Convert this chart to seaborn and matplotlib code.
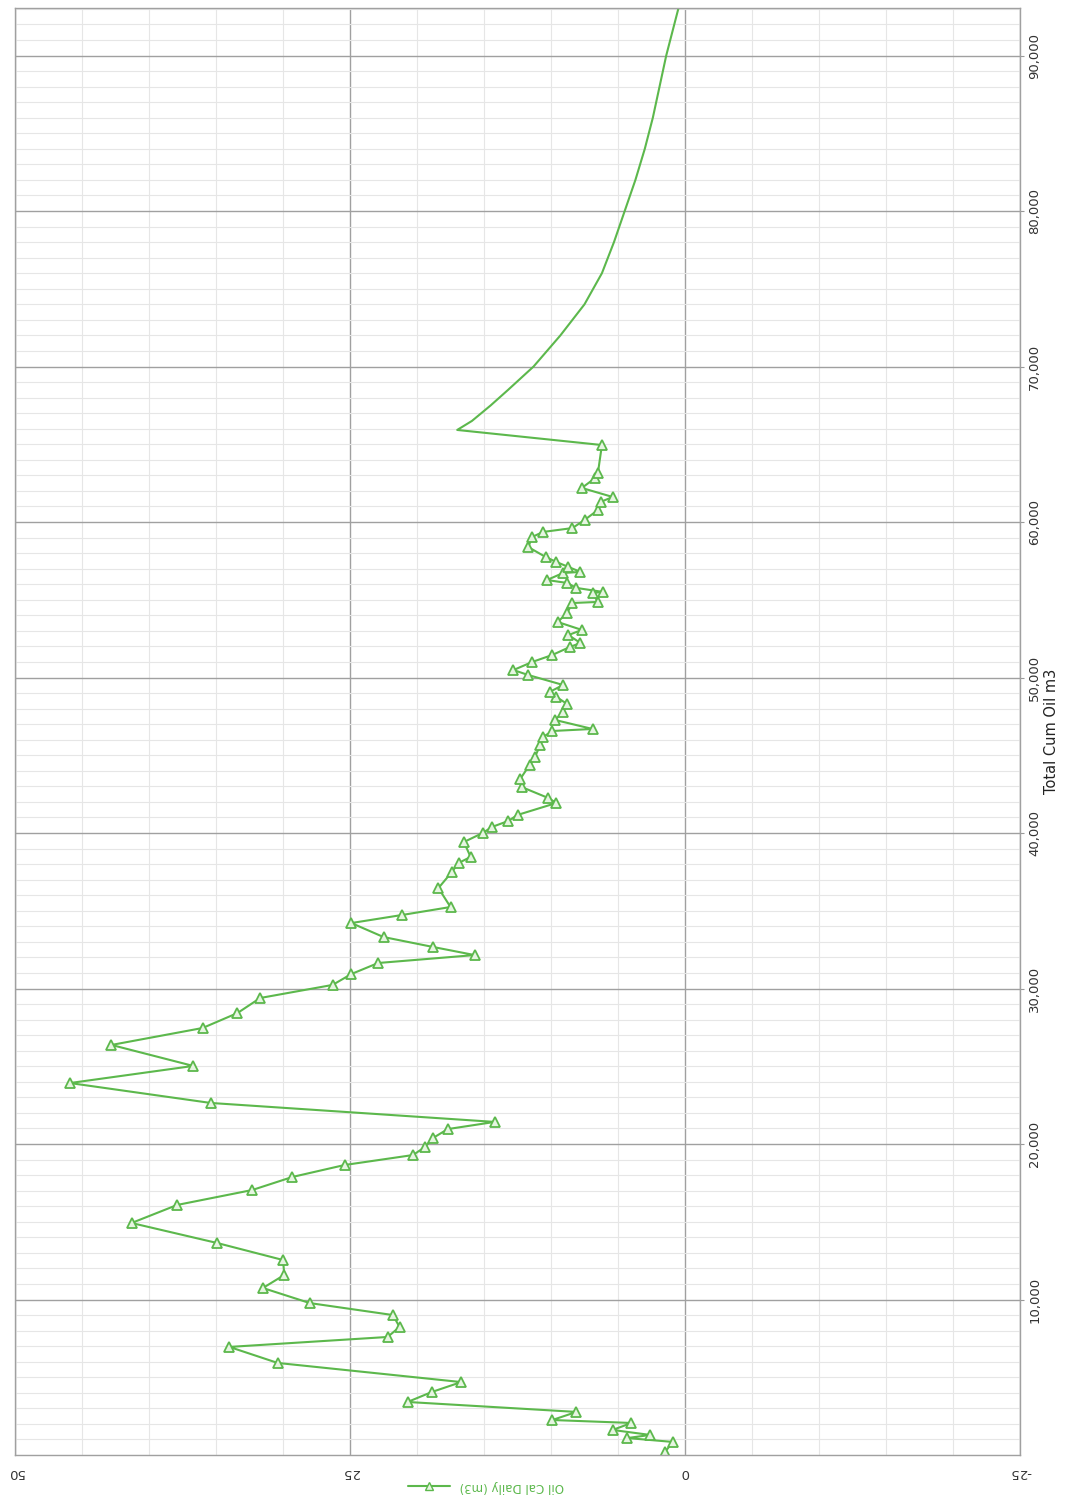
import matplotlib as mpl
mpl.use('agg')
import matplotlib.pyplot as plt
import matplotlib.ticker as mticker
import seaborn as sns

# measured points (cumulative oil m3, daily oil m3)
cum_oil = [190, 840, 1090, 1290, 1610, 2060, 2250, 2770, 3410, 4050, 4690,
           5920, 6950, 7590, 8230, 9000, 9770, 10740, 11580, 12540, 13630,
           14920, 16080, 17040, 17880, 18650, 19290, 19810, 20390, 20960,
           21420, 22640, 23920, 25020, 26370, 27460, 28420, 29390, 30230,
           30930, 31640, 32150, 32670, 33310, 34210, 34730, 35240, 36460,
           37490, 38070, 38460, 39420, 40000, 40390, 40770, 41160, 41930,
           42250, 42960, 43470, 44370, 44890, 45660, 46170, 46560, 46690,
           47270, 47780, 48300, 48750, 49070, 49520, 50160, 50480, 51000,
           51450, 51960, 52220, 52730, 53060, 53570, 54150, 54790, 54860,
           55440, 55500, 55760, 56080, 56270, 56720, 56790, 57110, 57430,
           57750, 58390, 59040, 59360, 59610, 60130, 60770, 61290, 61610,
           62190, 62830, 63150, 64950]
oil_daily = [1.5, 0.9, 4.3, 2.6, 5.4, 4.0, 9.9, 8.1, 20.7, 18.9, 16.7,
             30.4, 34.0, 22.2, 21.3, 21.8, 28.0, 31.5, 29.9, 30.0, 34.9,
             41.3, 37.9, 32.3, 29.3, 25.4, 20.3, 19.4, 18.8, 17.7,
             14.2, 35.4, 45.9, 36.7, 42.8, 36.0, 33.4, 31.7, 26.3,
             24.9, 22.9, 15.7, 18.8, 22.5, 24.9, 21.1, 17.5, 18.4,
             17.4, 16.9, 16.0, 16.5, 15.1, 14.4, 13.2, 12.5, 9.6,
             10.2, 12.2, 12.3, 11.6, 11.2, 10.8, 10.6, 9.9, 6.9,
             9.7, 9.1, 8.8, 9.6, 10.1, 9.1, 11.7, 12.8, 11.4,
             9.9, 8.6, 7.8, 8.7, 7.7, 9.5, 8.8, 8.4, 6.5,
             6.9, 6.1, 8.1, 8.8, 10.3, 9.1, 7.8, 8.7, 9.6,
             10.4, 11.7, 11.4, 10.6, 8.4, 7.5, 6.5, 6.3, 5.4,
             7.7, 6.7, 6.5, 6.2]

# forecast decline (no markers)
fc_cum = [64950, 65920, 66500, 67500, 68500, 70000, 72000, 74000, 76000,
          78000, 80000, 82000, 84000, 86000, 88000, 90000, 92000, 93000]
fc_daily = [6.2, 17.0, 15.9, 14.5, 13.2, 11.3, 9.3, 7.5, 6.2,
            5.3, 4.5, 3.7, 3.0, 2.4, 1.9, 1.4, 0.8, 0.5]

green = '#5cb84c'

sns.set_style("white")
plt.rcParams['axes.unicode_minus'] = False
fig = plt.figure(figsize=(10.68, 15.01), dpi=100)
ax = fig.add_axes([15 / 1068, 46 / 1501, 1005 / 1068, 1447 / 1501])

sns.lineplot(x=fc_daily, y=fc_cum, sort=False, estimator=None, color=green,
             linewidth=1.5, ax=ax)
sns.lineplot(x=oil_daily, y=cum_oil, sort=False, estimator=None, color=green,
             linewidth=1.5, marker='^', markersize=7, markerfacecolor='#e6f5e1',
             markeredgecolor=green, markeredgewidth=1.3, ax=ax)

ax.set_xlim(50, -25)
ax.set_ylim(0, 93055)
ax.xaxis.set_major_locator(mticker.MultipleLocator(25))
ax.xaxis.set_minor_locator(mticker.MultipleLocator(5))
ax.yaxis.set_major_locator(mticker.FixedLocator(range(10000, 100000, 10000)))
ax.yaxis.set_minor_locator(mticker.MultipleLocator(1000))
ax.yaxis.set_major_formatter(mticker.StrMethodFormatter('{x:,.0f}'))
ax.grid(which='major', color='#a0a0a0', linewidth=1.0)
ax.grid(which='minor', color='#e6e6e6', linewidth=0.8)
ax.set_axisbelow(True)

ax.yaxis.tick_right()
ax.yaxis.set_label_position('right')
ax.tick_params(axis='y', which='major', labelsize=9.5, labelcolor='#333333',
               labelrotation=90, length=3, color='#999999', pad=3)
ax.tick_params(axis='x', which='major', labelsize=9.5, labelcolor='#333333',
               labelrotation=180, length=0, pad=8)
ax.tick_params(which='minor', length=0)
for lab in ax.get_yticklabels():
    lab.set_va('center')
ax.set_ylabel('Total Cum Oil m3', fontsize=10.5, color='#222222', labelpad=2)
ax.set_xlabel('')

for s in ax.spines.values():
    s.set_color('#a0a0a0')
    s.set_linewidth(1.0)

handle = mpl.lines.Line2D([], [], color=green, linewidth=1.5, marker='^',
                          markersize=6, markerfacecolor='#e6f5e1',
                          markeredgecolor=green)
leg = fig.legend([handle], ['Oil Cal Daily (m3)'], loc='center',
                 bbox_to_anchor=(0.455, 0.0095), frameon=False, fontsize=8.5,
                 handlelength=3.5)
for t in leg.get_texts():
    t.set_rotation(180)
    t.set_color(green)

fig.savefig('out.png', dpi=100)
